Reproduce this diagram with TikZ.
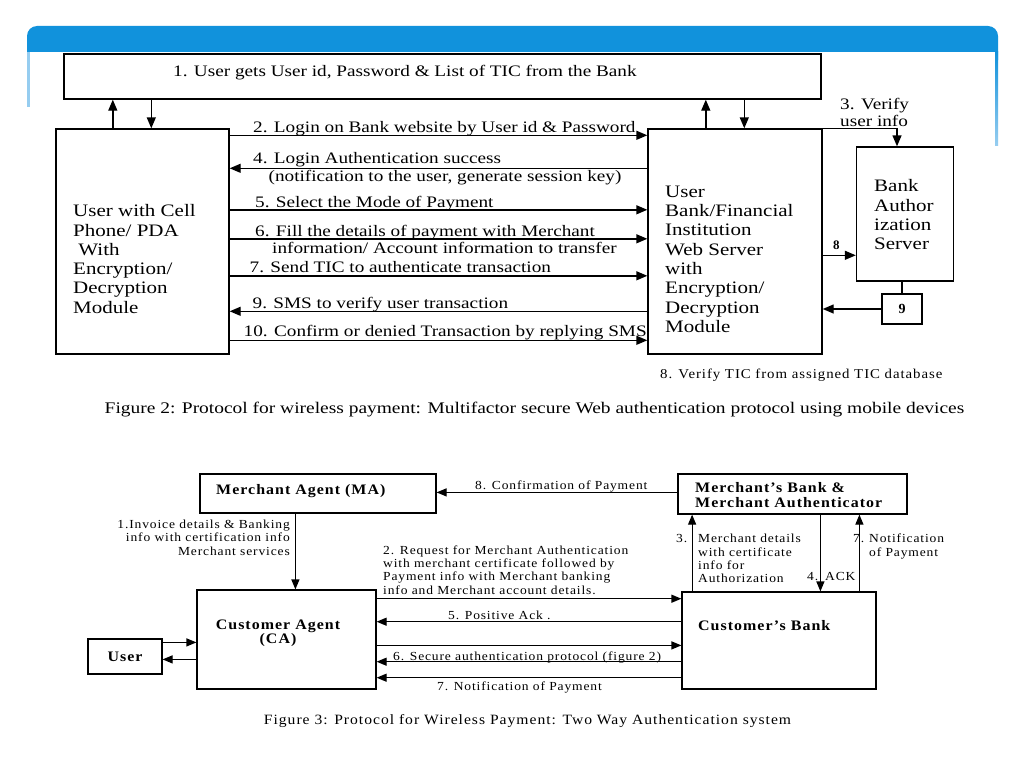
\documentclass[tikz,border=0pt]{standalone}
\usepackage{fontspec}
\setmainfont{Liberation Serif}
\newfontfamily\fA{Liberation Serif}[FakeStretch=1.2]
\newfontfamily\fB{Liberation Serif}[FakeStretch=1.1,LetterSpace=7]
\usetikzlibrary{arrows.meta}
\definecolor{banner}{RGB}{17,146,220}
\definecolor{bannerlight}{RGB}{150,205,240}
\newcommand\lft[1]{\begin{tabular}[t]{@{}l@{}}#1\end{tabular}}
\newcommand\rgt[1]{\begin{tabular}[t]{@{}r@{}}#1\end{tabular}}
\newcommand\ctr[1]{\begin{tabular}[t]{@{}c@{}}#1\end{tabular}}
\begin{document}
\begin{tikzpicture}[x=1pt,y=-1pt,
  box/.style={draw, line width=1.4pt, inner sep=0pt},
  boxc/.style={draw, line width=1.2pt, inner sep=0pt},
  arr/.style={line width=1.4pt, -{Triangle[length=11pt,width=9pt]}},
  arrc/.style={line width=1.2pt, -{Triangle[length=10pt,width=8pt]}},
  ln/.style={line width=1.4pt},
  tA/.style={inner sep=0pt, anchor=base west, font=\fA\fontsize{16}{17.5}\selectfont},
  tAbox/.style={inner sep=0pt, anchor=base west, font=\fA\fontsize{17.5}{19.3}\selectfont},
  tB/.style={inner sep=0pt, anchor=base west, font=\fB\fontsize{12.3}{13.4}\selectfont},
  tBb/.style={inner sep=0pt, anchor=base west, font=\fB\bfseries\fontsize{14.5}{14.4}\selectfont}
]
\useasboundingbox (0,0) rectangle (1024,768);
\fill[white] (0,0) rectangle (1024,768);
% banner
\fill[banner, rounded corners=10pt] (27,70) -- (27,26) -- (998,26) -- (998,70) -- cycle;
\fill[white] (27,52) rectangle (998,71);
\fill[bannerlight] (27,52) rectangle (29.5,107);
\shade[top color=banner, bottom color=bannerlight] (995,52) rectangle (998,145);

% ---------------- Figure 2 ----------------
\node[box, fill=white, minimum width=757, minimum height=45] (topbox) at (442.5,76.5) {};
\node[tA] (t1) at (173,76) {1. User gets User id, Password \& List of TIC from the Bank};

\node[box, minimum width=173, minimum height=225] (user) at (142.5,241.5) {};
\node[tAbox] (usertxt) at (73,216.7) {\lft{User with Cell\\Phone/ PDA\\\ With\\Encryption/\\Decryption\\Module}};

\node[box, minimum width=174, minimum height=225] (bank) at (735,241.5) {};
\node[tAbox] (banktxt) at (665,197.3) {\lft{User\\Bank/Financial\\Institution\\Web Server\\with\\Encryption/\\Decryption\\Module}};

\node[box, minimum width=97, minimum height=134] (auth) at (905,214) {};
\node[tAbox] (authtxt) at (874,191.7) {\lft{Bank\\Author\\ization\\Server}};

\node[box, minimum width=40, minimum height=30, font=\bfseries\fontsize{14}{15}\selectfont] (b9) at (902,309) {9};

% vertical arrows to/from top box
\coordinate (uu) at ([xshift=57.5]user.north west);
\coordinate (ud) at ([xshift=96]user.north west);
\draw[arr] (uu) -- (uu |- topbox.south);
\draw[arr] (ud |- topbox.south) -- (ud);
\coordinate (bu) at ([xshift=58.5]bank.north west);
\coordinate (bd) at ([xshift=97]bank.north west);
\draw[arr] (bu) -- (bu |- topbox.south);
\draw[arr] (bd |- topbox.south) -- (bd);

% horizontal messages
\coordinate (m2) at ([yshift=-7]user.north east);
\draw[arr] (m2) -- (m2 -| bank.west);
\node[tA] (l2) at (253,132) {2. Login on Bank website by User id \& Password};

\coordinate (m4) at ([yshift=-40]bank.north west);
\draw[arr] (m4) -- (m4 -| user.east);
\node[tA] (l4) at (253,163.5) {4. Login Authentication success};
\node[tA] (l4b) at (268.5,181.7) {(notification to the user, generate session key)};

\coordinate (m5) at ([yshift=-81.5]user.north east);
\draw[arr] (m5) -- (m5 -| bank.west);
\node[tA] (l5) at (255,207.5) {5. Select the Mode of Payment};

\coordinate (m6) at ([yshift=-110.5]user.north east);
\draw[arr] (m6) -- (m6 -| bank.west);
\node[tA] (l6) at (255,236.5) {6. Fill the details of payment with Merchant};
\node[tA] (l6b) at (272,253.5) {information/ Account information to transfer};

\coordinate (m7) at ([yshift=-147.5]user.north east);
\draw[arr] (m7) -- (m7 -| bank.west);
\node[tA] (l7) at (249.5,272.5) {7. Send TIC to authenticate transaction};

\coordinate (m9) at ([yshift=-183]bank.north west);
\draw[arr] (m9) -- (m9 -| user.east);
\node[tA] (l9) at (252.5,308) {9. SMS to verify user transaction};

\coordinate (m10) at ([yshift=-212]user.north east);
\draw[arr] (m10) -- (m10 -| bank.west);
\node[tA] (l10) at (243.5,336) {10. Confirm or denied Transaction by replying SMS};

% right side
\coordinate (v3) at ([xshift=-8]auth.north);
\draw[arr] (bank.north east) -| (v3);
\node[tA] (l3) at (840,109) {\lft{3. Verify\\user info}};

\coordinate (m8) at ([yshift=-127]bank.north east);
\draw[arr] (m8) -- (m8 -| auth.west);
\node[tA, font=\bfseries\fontsize{13}{14}\selectfont] (l8) at (833,249.5) {8};

\draw[ln] (b9.north) -- (b9.north |- auth.south);
\draw[arr] (b9.west) -- (b9.west -| bank.east);

\node[tB, font=\fB\fontsize{13.5}{14}\selectfont] (l8v) at (660,378.3) {8. Verify TIC from assigned TIC database};

\node[inner sep=0pt, anchor=base, font=\fA\fontsize{16.2}{18}\selectfont] (cap2) at (534.5,413) {Figure 2: Protocol for wireless payment: Multifactor secure Web authentication protocol using mobile devices};

% ---------------- Figure 3 ----------------
\node[boxc, minimum width=236, minimum height=39] (ma) at (318,493.5) {};
\node[tBb] (matxt) at (216,494) {Merchant Agent (MA)};

\node[boxc, minimum width=229, minimum height=40] (mb) at (792.5,494) {};
\node[tBb] (mbtxt) at (695,492.8) {\lft{Merchant’s Bank \&\\Merchant Authenticator}};

\node[boxc, minimum width=179, minimum height=99] (ca) at (286.5,639.5) {};
\node[tBb, anchor=base] (catxt) at (278,629) {\ctr{Customer Agent\\(CA)}};

\node[boxc, minimum width=194, minimum height=97] (cb) at (779,640.5) {};
\node[tBb] (cbtxt) at (698,630) {Customer’s Bank};

\node[boxc, minimum width=74, minimum height=35, font=\fB\bfseries\fontsize{14.5}{15}\selectfont] (usr) at (125,656.5) {User};

% arrows
\coordinate (c8) at ([yshift=-19]mb.north west);
\draw[arrc] (c8) -- (c8 -| ma.east);
\node[tB] (k8) at (475,489.3) {8. Confirmation of Payment};

\coordinate (c1) at ([xshift=96]ma.south west);
\draw[arrc] (c1) -- (c1 |- ca.north);
\node[tB, anchor=base east] (k1) at (290,528.3) {\rgt{1.Invoice details \& Banking\\info with certification info\\Merchant services}};

\coordinate (c2) at ([yshift=-9.3]ca.north east);
\draw[arrc] (c2) -- (c2 -| cb.west);
\node[tB] (k2) at (383,554) {\lft{2. Request for Merchant Authentication\\with merchant certificate followed by\\Payment info with Merchant banking\\info and Merchant account details.}};

\coordinate (c5) at ([yshift=-30.3]cb.north west);
\draw[arrc] (c5) -- (c5 -| ca.east);
\node[tB] (k5) at (448,619.3) {5. Positive Ack .};

\coordinate (c5b) at ([yshift=-56]ca.north east);
\draw[arrc] (c5b) -- (c5b -| cb.west);

\coordinate (c6) at ([yshift=-70.3]cb.north west);
\draw[arrc] (c6) -- (c6 -| ca.east);
\node[tB] (k6) at (393,660) {6. Secure authentication protocol (figure 2)};

\coordinate (c7) at ([yshift=-86.3]cb.north west);
\draw[arrc] (c7) -- (c7 -| ca.east);
\node[tB] (k7) at (437,690) {7. Notification of Payment};

\coordinate (c3) at ([xshift=10.7]cb.north west);
\draw[arrc] (c3) -- (c3 |- mb.south);
\node[tB] (k3n) at (676,542.7) {3.};
\node[tB] (k3) at (698,542.7) {\lft{Merchant details\\with certificate\\info for\\Authorization}};

\coordinate (c4) at ([xshift=139]cb.north west);
\draw[arrc] (c4 |- mb.south) -- (c4);
\node[tB] (k4n) at (807,580.7) {4.};
\node[tB] (k4) at (825,580.7) {ACK};

\coordinate (c7u) at ([xshift=178]cb.north west);
\draw[arrc] (c7u) -- (c7u |- mb.south);
\node[tB] (k7n) at (853,542.7) {7.};
\node[tB] (k7u) at (869,542.7) {\lft{Notification\\of Payment}};

\coordinate (cu1) at ([yshift=-4]usr.north east);
\draw[arrc] (cu1) -- (cu1 -| ca.west);
\coordinate (cu2) at ([yshift=-21]usr.north east);
\draw[arrc] (cu2 -| ca.west) -- (cu2);

\node[inner sep=0pt, anchor=base, font=\fB\fontsize{14.2}{15}\selectfont] (cap3) at (527.5,724) {Figure 3: Protocol for Wireless Payment: Two Way Authentication system};
\end{tikzpicture}
\end{document}
